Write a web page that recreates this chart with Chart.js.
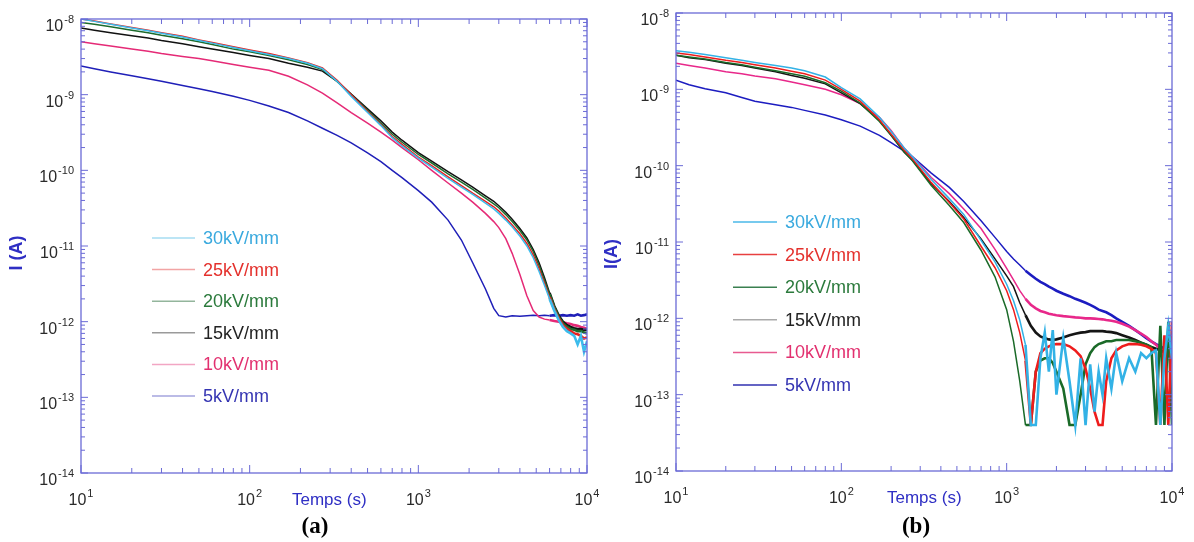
<!DOCTYPE html>
<html>
<head>
<meta charset="utf-8">
<script src="https://cdn.jsdelivr.net/npm/chart.js@4.4.1/dist/chart.umd.min.js"></script>
<style>
  html, body { margin: 0; padding: 0; background: #fff; }
  #wrap { position: relative; width: 1194px; height: 542px; }
  #wrap canvas { position: absolute; top: 0; }
  #ca { left: 0; }
  #cb { left: 597px; }
</style>
</head>
<body>
<div id="wrap">
  <canvas id="ca" width="620" height="542"></canvas>
  <canvas id="cb" width="597" height="542"></canvas>
</div>
<script>
// legend labels and tick labels
const fieldLabels = ['30kV/mm', '25kV/mm', '20kV/mm', '15kV/mm', '10kV/mm', '5kV/mm'];
const xTickExp = ['1', '2', '3', '4'];
const yTickExp = ['-8', '-9', '-10', '-11', '-12', '-13', '-14'];

// (a) time (s) and current (A)
const tA = [10, 12, 15, 20, 25, 30, 40, 50, 60, 80, 100, 130, 170, 220, 270, 330, 400, 500, 600, 700,
  800, 1000, 1200, 1500, 1800, 2100, 2500, 2800, 3000, 3300, 3600, 4000, 4400, 4800, 5200, 5600, 6000,
  6400, 6800, 7200, 7600, 8000, 8400, 8800, 9200, 9600, 10000];
const a30 = [1.0e-8, 9.3e-9, 8.5e-9, 7.6e-9, 7.0e-9, 6.5e-9, 5.8e-9, 5.2e-9, 4.8e-9, 4.2e-9,
  3.8e-9, 3.4e-9, 3.0e-9, 2.6e-9, 2.2e-9, 1.5e-9, 9.5e-10, 5.8e-10, 3.9e-10, 2.7e-10,
  2.1e-10, 1.45e-10, 1.1e-10, 7.8e-11, 6.0e-11, 4.8e-11, 3.7e-11, 3.1e-11, 2.7e-11, 2.2e-11,
  1.8e-11, 1.35e-11, 1.0e-11, 7.0e-12, 4.6e-12, 3.0e-12, 2.0e-12, 1.4e-12, 1.05e-12, 8.5e-13,
  7.5e-13, 7.0e-13, 6.5e-13, 5.0e-13, 6.5e-13, 4.0e-13, 5.5e-13];
const a25 = [1.0e-8, 9.4e-9, 8.6e-9, 7.7e-9, 7.1e-9, 6.6e-9, 5.9e-9, 5.3e-9, 4.9e-9, 4.3e-9,
  3.9e-9, 3.5e-9, 3.05e-9, 2.65e-9, 2.25e-9, 1.55e-9, 1.0e-9, 6.0e-10, 4.0e-10, 2.8e-10,
  2.2e-10, 1.5e-10, 1.15e-10, 8.2e-11, 6.3e-11, 5.0e-11, 3.9e-11, 3.3e-11, 2.9e-11, 2.35e-11,
  1.9e-11, 1.45e-11, 1.08e-11, 7.6e-12, 5.0e-12, 3.2e-12, 2.1e-12, 1.45e-12, 1.1e-12, 9.0e-13,
  8.0e-13, 7.5e-13, 7.0e-13, 6.8e-13, 6.5e-13, 6.0e-13, 6.2e-13];
const a20 = [9.0e-9, 8.5e-9, 7.9e-9, 7.1e-9, 6.6e-9, 6.1e-9, 5.5e-9, 5.0e-9, 4.6e-9, 4.0e-9,
  3.7e-9, 3.3e-9, 2.9e-9, 2.5e-9, 2.15e-9, 1.5e-9, 1.0e-9, 6.2e-10, 4.2e-10, 3.0e-10,
  2.35e-10, 1.62e-10, 1.25e-10, 9.0e-11, 7.0e-11, 5.6e-11, 4.3e-11, 3.6e-11, 3.2e-11, 2.6e-11,
  2.1e-11, 1.6e-11, 1.2e-11, 8.4e-12, 5.5e-12, 3.5e-12, 2.3e-12, 1.55e-12, 1.15e-12, 9.5e-13,
  8.5e-13, 8.0e-13, 7.8e-13, 7.5e-13, 7.5e-13, 7.2e-13, 7.0e-13];
const a15 = [7.6e-9, 7.1e-9, 6.6e-9, 6.0e-9, 5.6e-9, 5.2e-9, 4.7e-9, 4.3e-9, 4.0e-9, 3.6e-9,
  3.3e-9, 3.0e-9, 2.6e-9, 2.3e-9, 2.05e-9, 1.5e-9, 1.02e-9, 6.5e-10, 4.5e-10, 3.2e-10,
  2.5e-10, 1.72e-10, 1.32e-10, 9.6e-11, 7.5e-11, 6.0e-11, 4.6e-11, 3.9e-11, 3.4e-11, 2.8e-11,
  2.25e-11, 1.7e-11, 1.28e-11, 9.0e-12, 6.0e-12, 3.8e-12, 2.4e-12, 1.6e-12, 1.2e-12, 1.0e-12,
  9.0e-13, 8.5e-13, 8.2e-13, 8.0e-13, 8.0e-13, 7.8e-13, 7.8e-13];
const a10 = [5.0e-9, 4.7e-9, 4.4e-9, 4.0e-9, 3.75e-9, 3.5e-9, 3.2e-9, 3.0e-9, 2.8e-9, 2.5e-9,
  2.3e-9, 2.1e-9, 1.75e-9, 1.35e-9, 1.05e-9, 7.8e-10, 5.8e-10, 4.2e-10, 3.2e-10, 2.5e-10,
  2.0e-10, 1.38e-10, 1.0e-10, 6.8e-11, 5.0e-11, 3.8e-11, 2.7e-11, 2.1e-11, 1.75e-11, 1.25e-11,
  8.0e-12, 4.2e-12, 2.2e-12, 1.4e-12, 1.15e-12, 1.08e-12, 1.05e-12, 1.02e-12, 1.0e-12, 9.8e-13,
  9.5e-13, 9.3e-13, 9.0e-13, 8.8e-13, 8.5e-13, 8.3e-13, 8.0e-13];
const a5 = [2.4e-9, 2.2e-9, 2.0e-9, 1.78e-9, 1.62e-9, 1.5e-9, 1.32e-9, 1.2e-9, 1.1e-9, 9.5e-10,
  8.4e-10, 7.1e-10, 5.8e-10, 4.5e-10, 3.6e-10, 2.9e-10, 2.3e-10, 1.7e-10, 1.3e-10, 1.0e-10,
  8.0e-11, 5.4e-11, 3.8e-11, 2.2e-11, 1.2e-11, 6.0e-12, 2.7e-12, 1.5e-12, 1.2e-12, 1.15e-12,
  1.2e-12, 1.18e-12, 1.2e-12, 1.22e-12, 1.2e-12, 1.22e-12, 1.2e-12, 1.22e-12, 1.2e-12, 1.22e-12,
  1.2e-12, 1.22e-12, 1.2e-12, 1.25e-12, 1.2e-12, 1.22e-12, 1.25e-12];

// (b) time (s) and current (A)
const tB = [10, 12, 15, 20, 25, 30, 40, 50, 60, 80, 100, 130, 170, 200, 240, 270, 350, 450, 550, 700,
  850, 1000, 1100, 1200, 1300, 1400, 1500, 1600, 1700, 1800, 1900, 2000, 2200, 2400, 2600, 2800, 3000,
  3200, 3400, 3600, 3800, 4000, 4300, 4600, 5000, 5500, 6000, 6500, 7000, 7500, 8000, 8500, 9000,
  9500, 10000];
const b30 = [3.2e-9, 3.05e-9, 2.85e-9, 2.6e-9, 2.4e-9, 2.25e-9, 2.05e-9, 1.9e-9, 1.75e-9, 1.45e-9,
  1.05e-9, 7.5e-10, 4.3e-10, 2.8e-10, 1.7e-10, 1.3e-10, 6.6e-11, 3.7e-11, 2.3e-11, 1.05e-11,
  5.5e-12, 2.8e-12, 1.7e-12, 9.5e-13, 4.5e-13, 4e-14, 4e-14, 3.0e-13, 6.5e-13, 2.0e-13,
  7.0e-13, 1.0e-13, 5.5e-13, 1.5e-13, 4e-14, 3.0e-13, 4e-14, 2.5e-13, 6e-14, 2.0e-13,
  1.0e-13, 3.0e-13, 1.2e-13, 3.5e-13, 1.5e-13, 3.0e-13, 2.0e-13, 3.5e-13, 3.0e-13, 3.5e-13,
  3.8e-13, 4e-14, 3.0e-13, 8.0e-13, 3.0e-13];
const b25 = [3.0e-9, 2.85e-9, 2.65e-9, 2.4e-9, 2.25e-9, 2.1e-9, 1.9e-9, 1.72e-9, 1.6e-9, 1.32e-9,
  1.0e-9, 7.0e-10, 4.0e-10, 2.6e-10, 1.6e-10, 1.22e-10, 6.0e-11, 3.3e-11, 2.0e-11, 8.8e-12,
  4.6e-12, 2.3e-12, 1.3e-12, 6.5e-13, 2.8e-13, 4e-14, 2.0e-13, 3.5e-13, 4.0e-13, 4.3e-13,
  4.5e-13, 4.6e-13, 4.6e-13, 4.3e-13, 3.8e-13, 3.2e-13, 2.2e-13, 1.2e-13, 6e-14, 4e-14,
  4e-14, 1.5e-13, 3.0e-13, 3.8e-13, 4.3e-13, 4.6e-13, 4.6e-13, 4.5e-13, 4.3e-13, 4.0e-13,
  3.5e-13, 4e-14, 6.0e-13, 4e-14, 9.0e-13];
const b20 = [2.8e-9, 2.65e-9, 2.5e-9, 2.25e-9, 2.1e-9, 1.95e-9, 1.75e-9, 1.6e-9, 1.48e-9, 1.22e-9,
  9.5e-10, 6.6e-10, 3.8e-10, 2.5e-10, 1.52e-10, 1.15e-10, 5.5e-11, 3.0e-11, 1.8e-11, 7.8e-12,
  3.5e-12, 1.3e-12, 5.0e-13, 1.5e-13, 4e-14, 4e-14, 2.0e-13, 2.8e-13, 3.0e-13, 3.0e-13,
  2.6e-13, 2.0e-13, 1.2e-13, 4e-14, 4e-14, 1.0e-13, 2.5e-13, 3.5e-13, 4.2e-13, 4.6e-13,
  4.8e-13, 5.0e-13, 5.0e-13, 5.2e-13, 5.2e-13, 5.2e-13, 5.0e-13, 4.8e-13, 4.5e-13, 4.2e-13,
  4e-14, 8.0e-13, 4e-14, 9.0e-13, 4e-14];
const b15 = [2.8e-9, 2.6e-9, 2.45e-9, 2.2e-9, 2.05e-9, 1.9e-9, 1.7e-9, 1.52e-9, 1.4e-9, 1.18e-9,
  9.0e-10, 6.5e-10, 3.9e-10, 2.5e-10, 1.5e-10, 1.17e-10, 5.8e-11, 3.4e-11, 2.1e-11, 1.1e-11,
  6.0e-12, 3.6e-12, 2.6e-12, 1.6e-12, 1.1e-12, 8.0e-13, 6.5e-13, 5.8e-13, 5.5e-13, 5.3e-13,
  5.2e-13, 5.3e-13, 5.6e-13, 6.0e-13, 6.3e-13, 6.5e-13, 6.6e-13, 6.8e-13, 6.8e-13, 6.8e-13,
  6.8e-13, 6.7e-13, 6.6e-13, 6.4e-13, 6.0e-13, 5.6e-13, 5.2e-13, 4.8e-13, 4.5e-13, 4.2e-13,
  4.0e-13, 3.8e-13, 3.6e-13, 3.4e-13, 3.2e-13];
const b10 = [2.2e-9, 2.05e-9, 1.9e-9, 1.7e-9, 1.6e-9, 1.5e-9, 1.38e-9, 1.25e-9, 1.15e-9, 1.0e-9,
  8.5e-10, 6.5e-10, 4.3e-10, 2.9e-10, 1.7e-10, 1.3e-10, 7.0e-11, 4.3e-11, 2.7e-11, 1.5e-11,
  8.0e-12, 4.5e-12, 3.2e-12, 2.3e-12, 1.8e-12, 1.5e-12, 1.35e-12, 1.25e-12, 1.2e-12, 1.15e-12,
  1.12e-12, 1.1e-12, 1.07e-12, 1.05e-12, 1.03e-12, 1.02e-12, 1.0e-12, 1.0e-12, 9.9e-13, 9.8e-13,
  9.7e-13, 9.5e-13, 9.3e-13, 9.0e-13, 8.5e-13, 7.8e-13, 7.0e-13, 6.3e-13, 5.7e-13, 5.0e-13,
  4.5e-13, 4.0e-13, 3.6e-13, 3.3e-13, 3.0e-13];
const b5 = [1.32e-9, 1.15e-9, 1.02e-9, 9.0e-10, 7.8e-10, 7.0e-10, 6.3e-10, 5.8e-10, 5.3e-10, 4.6e-10,
  4.0e-10, 3.3e-10, 2.5e-10, 2.0e-10, 1.55e-10, 1.3e-10, 8.0e-11, 5.2e-11, 3.4e-11, 1.9e-11,
  1.15e-11, 7.5e-12, 6.0e-12, 5.0e-12, 4.2e-12, 3.7e-12, 3.3e-12, 3.0e-12, 2.8e-12, 2.6e-12,
  2.45e-12, 2.3e-12, 2.1e-12, 1.95e-12, 1.8e-12, 1.7e-12, 1.6e-12, 1.5e-12, 1.4e-12, 1.3e-12,
  1.25e-12, 1.2e-12, 1.1e-12, 1.0e-12, 9.0e-13, 8.0e-13, 7.0e-13, 6.2e-13, 5.5e-13, 5.0e-13,
  4.6e-13, 4.3e-13, 4.0e-13, 3.8e-13, 3.6e-13];

const AXIS = '#6a6ad6';
const TICK_FONT = '16px "Liberation Sans", Arial, sans-serif';
const SUP_FONT = '11px "Liberation Sans", Arial, sans-serif';
const minorMult = [1, 2, 3, 4, 5, 6, 7, 8, 9];

function pts(t, v) {
  return t.map((x, i) => ({ x: x, y: v[i] }));
}

function drawPow(ctx, sup, left, base) {
  ctx.font = TICK_FONT;
  ctx.fillText('10', left, base);
  const w = ctx.measureText('10').width;
  ctx.font = SUP_FONT;
  ctx.fillText(sup, left + w + 1, base - 8);
}

function powWidth(ctx, sup) {
  ctx.font = TICK_FONT;
  const w = ctx.measureText('10').width;
  ctx.font = SUP_FONT;
  return w + 1 + ctx.measureText(sup).width;
}

// frame with inner ticks, tick labels, titles and legend
const framePlugin = {
  id: 'frame',
  afterDatasetsDraw(chart, args, o) {
    const { ctx, chartArea: a } = chart;
    const xs = chart.scales.x, ys = chart.scales.y;
    ctx.save();
    ctx.strokeStyle = AXIS;
    ctx.lineWidth = 1.3;
    ctx.strokeRect(a.left, a.top, a.right - a.left, a.bottom - a.top);
    ctx.beginPath();
    xTickExp.forEach(e => minorMult.forEach(m => {
      const v = m * Math.pow(10, +e);
      if (v > xs.max) return;
      const p = xs.getPixelForValue(v);
      const len = m === 1 ? 8 : 5;
      ctx.moveTo(p, a.bottom); ctx.lineTo(p, a.bottom - len);
      ctx.moveTo(p, a.top); ctx.lineTo(p, a.top + len);
    }));
    yTickExp.forEach(e => minorMult.forEach(m => {
      const v = m * Math.pow(10, +e);
      if (v > ys.max) return;
      const p = ys.getPixelForValue(v);
      const len = m === 1 ? 7 : 4;
      ctx.moveTo(a.left, p); ctx.lineTo(a.left + len, p);
      ctx.moveTo(a.right, p); ctx.lineTo(a.right - len, p);
    }));
    ctx.lineWidth = 1;
    ctx.stroke();

    ctx.fillStyle = '#2a2a2a';
    ctx.textBaseline = 'alphabetic';
    ctx.textAlign = 'left';
    xTickExp.forEach(e => {
      const p = xs.getPixelForValue(Math.pow(10, +e));
      const w = powWidth(ctx, e);
      drawPow(ctx, e, p - w / 2, a.bottom + 32);
    });
    yTickExp.forEach(e => {
      const p = ys.getPixelForValue(Math.pow(10, +e));
      const w = powWidth(ctx, e);
      drawPow(ctx, e, a.left - 7 - w, p + 12);
    });

    // axis titles
    ctx.fillStyle = '#2f2fc4';
    ctx.font = '17px "Liberation Sans", Arial, sans-serif';
    ctx.fillText('Temps (s)', o.xTitleX, a.bottom + 32);
    ctx.save();
    ctx.translate(o.yTitleX, o.yTitleY);
    ctx.rotate(-Math.PI / 2);
    ctx.textAlign = 'center';
    ctx.textBaseline = 'middle';
    ctx.font = 'bold 18px "Liberation Sans", Arial, sans-serif';
    ctx.fillText(o.yTitle, 0, 0);
    ctx.restore();

    // panel tag
    ctx.fillStyle = '#000';
    ctx.textAlign = 'center';
    ctx.textBaseline = 'middle';
    ctx.font = 'bold 23px "Liberation Serif", "Times New Roman", serif';
    ctx.fillText(o.tag, o.tagX, 527);

    // legend
    ctx.textAlign = 'left';
    ctx.font = '18px "Liberation Sans", Arial, sans-serif';
    chart.data.datasets.forEach((ds, i) => {
      const y = o.legY + i * o.legDy;
      ctx.strokeStyle = o.legLine[i];
      ctx.lineWidth = 1.5;
      ctx.beginPath();
      ctx.moveTo(o.legX1, y); ctx.lineTo(o.legX2, y);
      ctx.stroke();
      ctx.fillStyle = o.legText[i];
      ctx.fillText(ds.label, o.legTx, y + 1);
    });
    ctx.restore();
  }
};

const legendText = ['#39a9de', '#e4302c', '#2b7a3c', '#222222', '#e2306f', '#3434b2'];

function makeChart(id, t, series, colors, pad, thickFrom, frameOpts) {
  return new Chart(document.getElementById(id), {
    type: 'line',
    data: {
      datasets: series.map((v, i) => ({
        label: fieldLabels[i],
        data: pts(t, v),
        borderColor: colors[i],
        borderWidth: 1.5,
        pointRadius: 0,
        tension: 0,
        segment: {
          borderWidth: c => (c.p0.parsed.x >= thickFrom ? 2.6 : 1.5)
        }
      }))
    },
    options: {
      responsive: false,
      animation: false,
      devicePixelRatio: 1,
      layout: { padding: pad },
      scales: {
        x: { type: 'logarithmic', min: 10, max: 10000, display: false },
        y: { type: 'logarithmic', min: 1e-14, max: 1e-8, display: false }
      },
      plugins: {
        legend: { display: false },
        tooltip: { enabled: false },
        frame: frameOpts
      }
    },
    plugins: [framePlugin]
  });
}

makeChart('ca', tA, [a30, a25, a20, a15, a10, a5],
  ['#3cbcec', '#e82020', '#1d6b2c', '#111111', '#e52a76', '#1f1fb8'],
  { left: 81, right: 33, top: 19, bottom: 69 }, 6000,
  {
    xTitleX: 292, yTitle: 'I (A)', yTitleX: 17, yTitleY: 253, tag: '(a)', tagX: 315,
    legX1: 152, legX2: 195, legTx: 203, legY: 238, legDy: 31.6,
    legLine: ['#a6dcf2', '#f2a4a4', '#93b59c', '#9a9a9a', '#f2a6c4', '#a4a4de'],
    legText: legendText
  });

makeChart('cb', tB, [b30, b25, b20, b15, b10, b5],
  ['#33b2e6', '#ee1c1c', '#1a6a28', '#151515', '#e8288a', '#1c1cc0'],
  { left: 79, right: 22, top: 13, bottom: 71 }, 1300,
  {
    xTitleX: 290, yTitle: 'I(A)', yTitleX: 15, yTitleY: 254, tag: '(b)', tagX: 319,
    legX1: 136, legX2: 180, legTx: 188, legY: 222, legDy: 32.6,
    legLine: ['#4ab8e8', '#e84040', '#3a8050', '#aaaaaa', '#e85a90', '#3030b0'],
    legText: legendText
  });
</script>
</body>
</html>
